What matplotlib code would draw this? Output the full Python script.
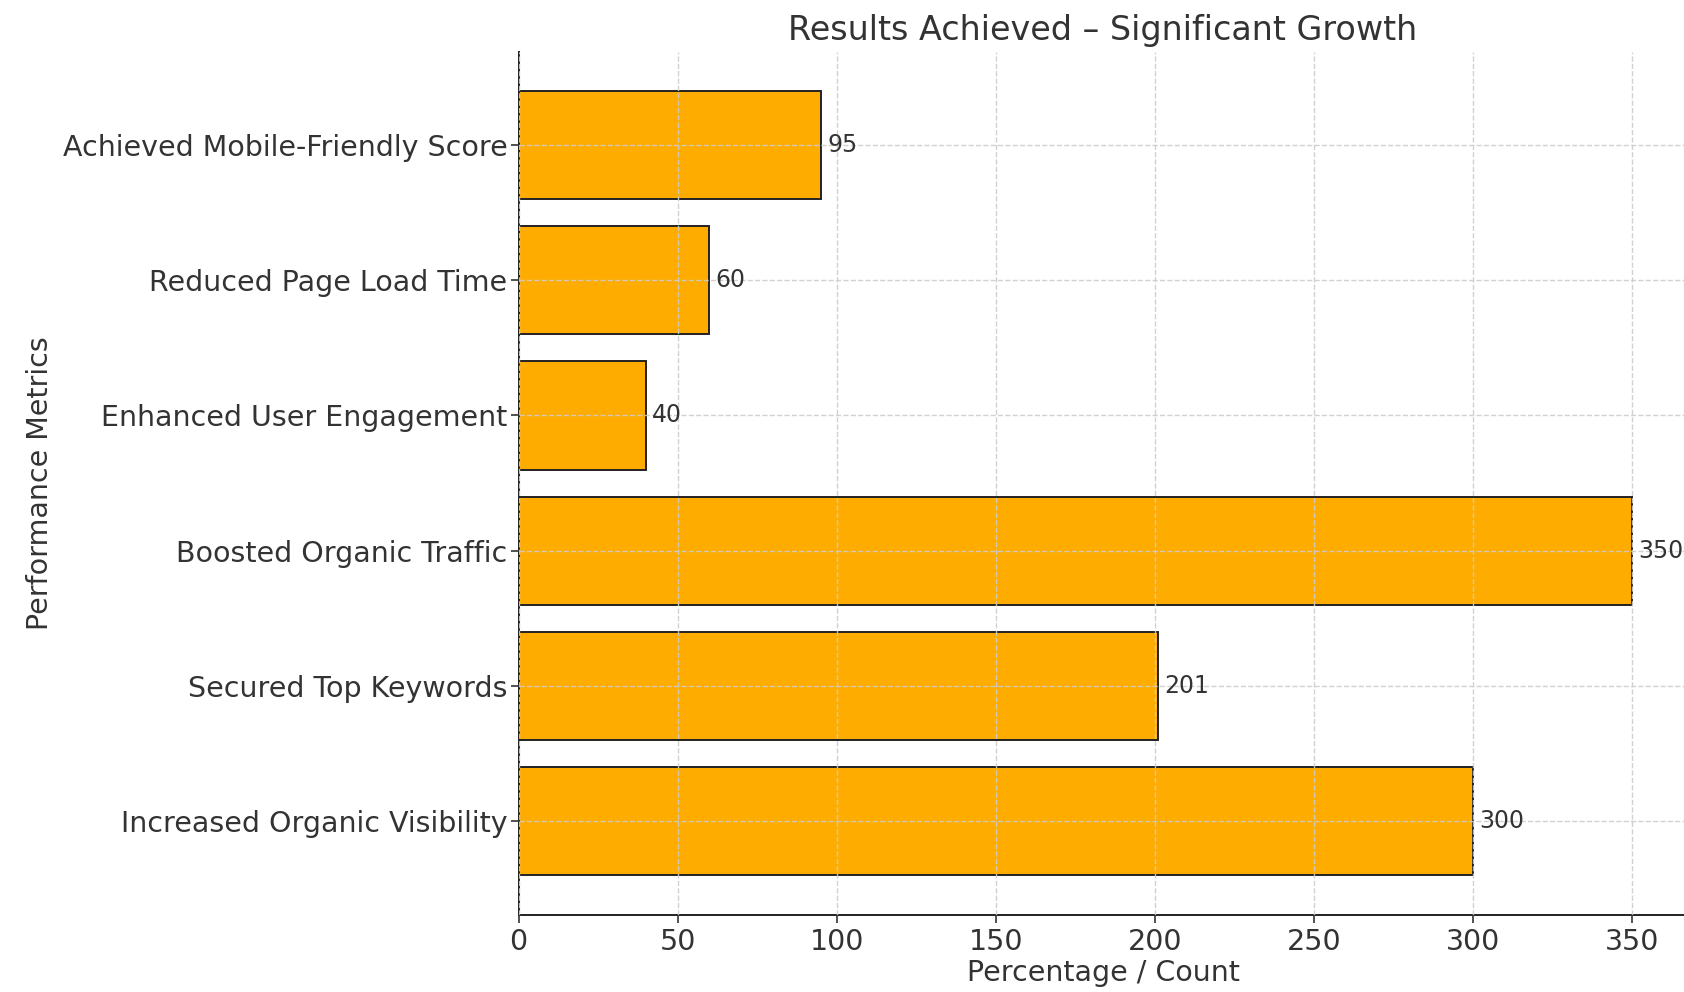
#!/usr/bin/env python3
"""Horizontal bar chart: results achieved per performance metric."""
import matplotlib

matplotlib.use("Agg")
import matplotlib.pyplot as plt

metrics = [
    "Increased Organic Visibility",
    "Secured Top Keywords",
    "Boosted Organic Traffic",
    "Enhanced User Engagement",
    "Reduced Page Load Time",
    "Achieved Mobile-Friendly Score",
]
values = [300, 201, 350, 40, 60, 95]

TEXT = "#333333"
plt.rcParams["font.family"] = ["DejaVu Sans"]
plt.rcParams["text.color"] = TEXT
plt.rcParams["axes.labelcolor"] = TEXT
plt.rcParams["xtick.color"] = TEXT
plt.rcParams["ytick.color"] = TEXT

fig = plt.figure(figsize=(16.84, 9.92), dpi=100)
ax = fig.add_axes([0.308, 0.078, 0.694, 0.870])

bars = ax.barh(metrics, values, color="#FFAC00", edgecolor="#222222", linewidth=1.4, height=0.8)
for b, v in zip(bars, values):
    ax.text(b.get_width() + 2, b.get_y() + b.get_height() / 2, str(v),
            va="center", ha="left", fontsize=17, color=TEXT)

ax.set_xlim(0, max(values) * 1.05)
ax.set_xticks(range(0, 351, 50))
ax.grid(True, linestyle="--", linewidth=1.0, color="#cccccc", alpha=0.9)
ax.set_axisbelow(False)
for s in ("top", "right"):
    ax.spines[s].set_visible(False)
for s in ("left", "bottom"):
    ax.spines[s].set_linewidth(1.4)
    ax.spines[s].set_color("#222222")
ax.tick_params(labelsize=20.5, length=6, width=1.2)
ax.tick_params(axis="y", pad=2)

ax.set_title("Results Achieved \u2013 Significant Growth", fontsize=24, pad=8)
ax.set_xlabel("Percentage / Count", fontsize=20.5, labelpad=2)
ax.set_ylabel("Performance Metrics", fontsize=20.5, labelpad=6)

fig.savefig("out.png", dpi=100)
